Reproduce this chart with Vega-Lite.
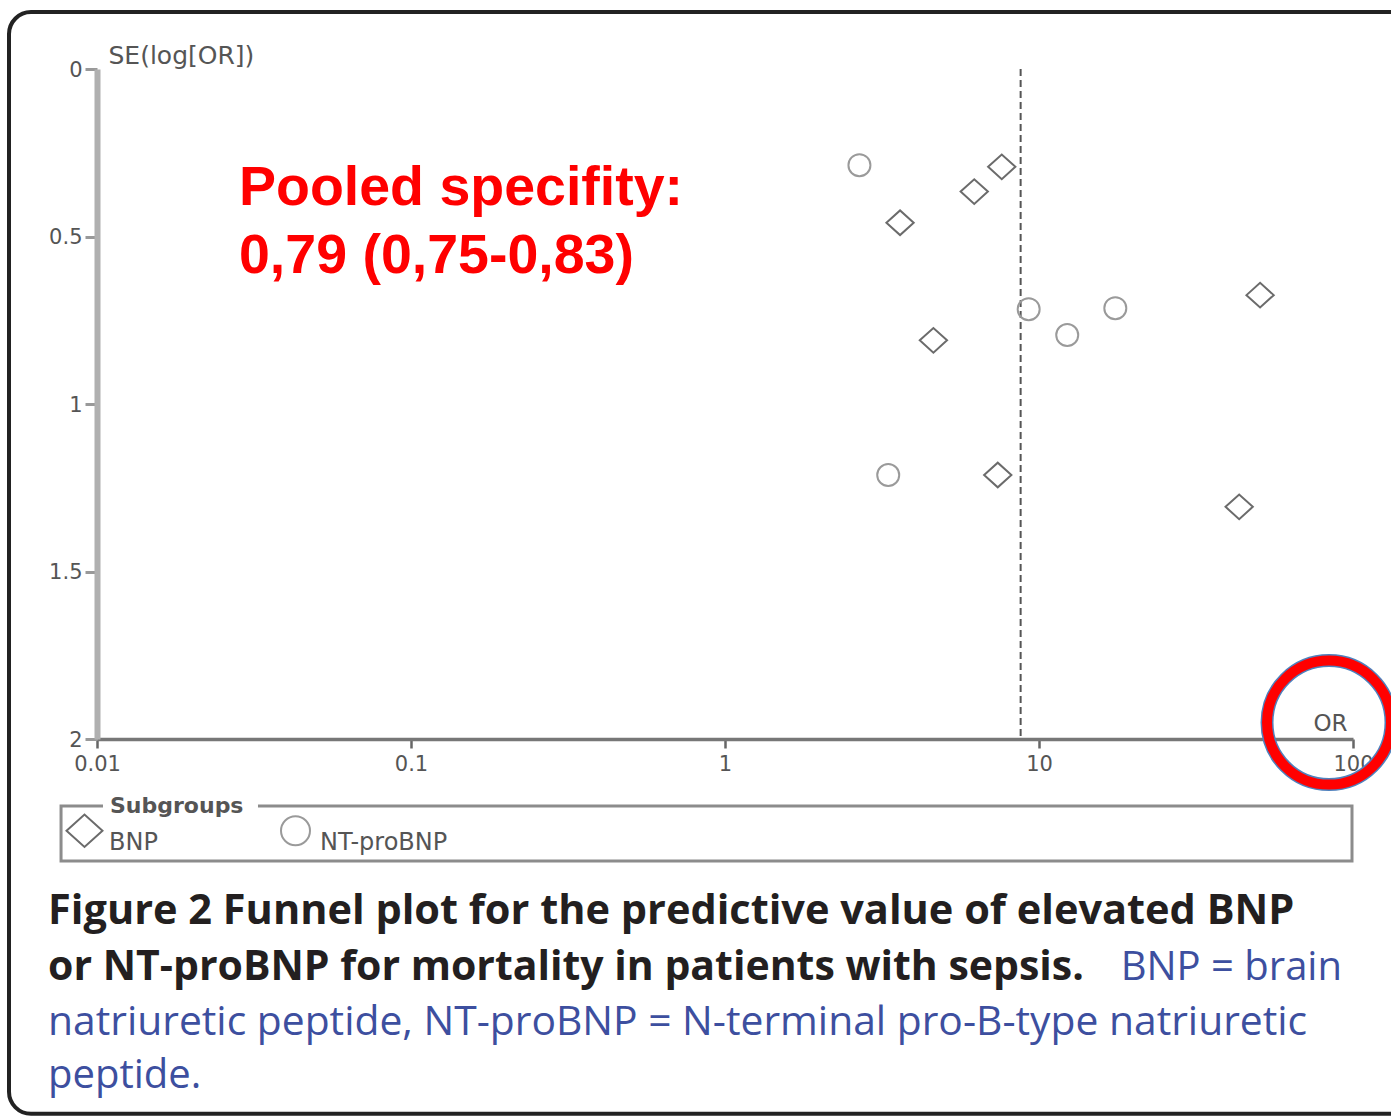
{
  "$schema": "https://vega.github.io/schema/vega-lite/v6.json",
  "width": 1256,
  "height": 670,
  "autosize": {"type": "none"},
  "padding": {"left": 97, "top": 69, "right": 38, "bottom": 377},
  "background": "white",
  "config": {"view": {"stroke": null}, "axis": {"grid": false}},
  "data": {
    "values": [
      {"group": "BNP", "or": 7.61, "se": 0.292},
      {"group": "BNP", "or": 6.22, "se": 0.366},
      {"group": "BNP", "or": 3.61, "se": 0.459},
      {"group": "BNP", "or": 4.61, "se": 0.810},
      {"group": "BNP", "or": 7.39, "se": 1.212},
      {"group": "BNP", "or": 50.6, "se": 0.675},
      {"group": "BNP", "or": 43.4, "se": 1.307},
      {"group": "NT-proBNP", "or": 2.68, "se": 0.287},
      {"group": "NT-proBNP", "or": 9.27, "se": 0.717},
      {"group": "NT-proBNP", "or": 12.3, "se": 0.794},
      {"group": "NT-proBNP", "or": 17.5, "se": 0.714},
      {"group": "NT-proBNP", "or": 3.31, "se": 1.212}
    ]
  },
  "layer": [
    {
      "data": {"values": [{}]},
      "mark": {"type": "rect", "fill": "transparent", "stroke": "#222222", "strokeWidth": 4, "cornerRadius": 22},
      "encoding": {
        "x": {"datum": 0.005245, "type": "quantitative"},
        "x2": {"datum": 175.9},
        "y": {"datum": -0.17, "type": "quantitative"},
        "y2": {"datum": 3.119}
      }
    },
    {
      "data": {"values": [{}]},
      "mark": {"type": "rect", "fill": "transparent", "stroke": "#8c8c8c", "strokeWidth": 3},
      "encoding": {
        "x": {"datum": 0.007682, "type": "quantitative"},
        "x2": {"datum": 99.27},
        "y": {"datum": 2.2, "type": "quantitative"},
        "y2": {"datum": 2.364}
      }
    },
    {
      "data": {"values": [{}]},
      "mark": {"type": "rect", "fill": "white", "stroke": null},
      "encoding": {
        "x": {"datum": 0.010449, "type": "quantitative"},
        "x2": {"datum": 0.03256},
        "y": {"datum": 2.173, "type": "quantitative"},
        "y2": {"datum": 2.227}
      }
    },
    {
      "data": {"values": [{}]},
      "mark": {"type": "text", "text": "Subgroups", "align": "left", "baseline": "alphabetic", "font": "DejaVu Sans", "fontSize": 22, "fontWeight": "bold", "fill": "#555555"},
      "encoding": {
        "x": {"datum": 0.011, "type": "quantitative"},
        "y": {"datum": 2.221, "type": "quantitative"}
      }
    },
    {
      "data": {"values": [{}]},
      "mark": {"type": "rule", "stroke": "#555555", "strokeWidth": 2, "strokeDash": [7, 4]},
      "encoding": {
        "x": {"datum": 8.74, "type": "quantitative"},
        "y": {"datum": 0, "type": "quantitative"},
        "y2": {"datum": 2}
      }
    },
    {
      "mark": {"type": "point", "filled": false, "strokeWidth": 2, "size": 484, "opacity": 1},
      "encoding": {
        "x": {
          "field": "or",
          "type": "quantitative",
          "scale": {"type": "log", "domain": [0.01, 100], "nice": false},
          "axis": {
            "title": "OR",
            "values": [0.01, 0.1, 1, 10, 100],
            "format": "~g",
            "orient": "bottom",
            "domainColor": "#777777",
            "domainWidth": 3.5,
            "tickColor": "#666666",
            "tickWidth": 2.5,
            "tickSize": 9,
            "labelFont": "DejaVu Sans",
            "labelFontSize": 21,
            "labelColor": "#555555",
            "labelPadding": 5,
            "labelFlush": false,
            "labelOverlap": false,
            "titleX": 1233,
            "titleY": -9,
            "titleAlign": "center",
            "titleBaseline": "alphabetic",
            "titleFont": "DejaVu Sans",
            "titleFontSize": 23,
            "titleFontWeight": "normal",
            "titleColor": "#555555"
          }
        },
        "y": {
          "field": "se",
          "type": "quantitative",
          "scale": {"domain": [0, 2], "reverse": true, "nice": false, "zero": false},
          "axis": {
            "title": "SE(log[OR])",
            "values": [0, 0.5, 1, 1.5, 2],
            "format": "~g",
            "orient": "left",
            "domainColor": "#b0b0b0",
            "domainWidth": 6,
            "tickColor": "#999999",
            "tickWidth": 3,
            "tickSize": 12,
            "labelFont": "DejaVu Sans",
            "labelFontSize": 21,
            "labelColor": "#555555",
            "labelPadding": 3,
            "labelOffset": 1,
            "labelFlush": false,
            "labelOverlap": false,
            "titleAngle": 0,
            "titleX": 11,
            "titleY": -6,
            "titleAlign": "left",
            "titleBaseline": "alphabetic",
            "titleFont": "DejaVu Sans",
            "titleFontSize": 25,
            "titleFontWeight": "normal",
            "titleColor": "#555555"
          }
        },
        "shape": {
          "field": "group",
          "type": "nominal",
          "scale": {"domain": ["BNP", "NT-proBNP"], "range": ["M-1.24,0L0,-1.12L1.24,0L0,1.12Z", "circle"]},
          "legend": {
            "title": null,
            "orient": "none",
            "legendX": -28,
            "legendY": 746,
            "direction": "horizontal",
            "symbolSize": 841,
            "symbolStrokeWidth": 2,
            "labelFont": "DejaVu Sans",
            "labelFontSize": 24,
            "labelColor": "#555555",
            "labelOffset": 9,
            "labelBaseline": "top",
            "columnPadding": 119,
            "padding": 0
          }
        },
        "stroke": {
          "field": "group",
          "type": "nominal",
          "scale": {"domain": ["BNP", "NT-proBNP"], "range": ["#6b6b6b", "#9a9a9a"]}
        }
      }
    },
    {
      "data": {"values": [{}]},
      "mark": {"type": "text", "text": ["Pooled specifity:", "0,79 (0,75-0,83)"], "align": "left", "baseline": "alphabetic", "lineHeight": 68, "font": "Liberation Sans", "fontSize": 55.5, "fontWeight": "bold", "fill": "#ff0000"},
      "encoding": {
        "x": {"datum": 0.02833, "type": "quantitative"},
        "y": {"datum": 0.406, "type": "quantitative"}
      }
    },
    {
      "data": {"values": [{}]},
      "mark": {"type": "point", "shape": "circle", "filled": false, "stroke": "#4f81bd", "strokeWidth": 13, "size": 15376, "opacity": 1},
      "encoding": {
        "x": {"datum": 83.87, "type": "quantitative"},
        "y": {"datum": 1.951, "type": "quantitative"}
      }
    },
    {
      "data": {"values": [{}]},
      "mark": {"type": "point", "shape": "circle", "filled": false, "stroke": "#ff0000", "strokeWidth": 10, "size": 15376, "opacity": 1},
      "encoding": {
        "x": {"datum": 83.87, "type": "quantitative"},
        "y": {"datum": 1.951, "type": "quantitative"}
      }
    },
    {
      "data": {"values": [{}]},
      "mark": {"type": "text", "text": "Figure 2 Funnel plot for the predictive value of elevated BNP", "align": "left", "baseline": "alphabetic", "font": "Open Sans", "fontSize": 41.5, "fontWeight": "bold", "fill": "#231f20"},
      "encoding": {
        "x": {"datum": 0.006982, "type": "quantitative"},
        "y": {"datum": 2.552, "type": "quantitative"}
      }
    },
    {
      "data": {"values": [{}]},
      "mark": {"type": "text", "text": "or NT-proBNP for mortality in patients with sepsis.", "align": "left", "baseline": "alphabetic", "font": "Open Sans", "fontSize": 41, "fontWeight": "bold", "fill": "#231f20"},
      "encoding": {
        "x": {"datum": 0.006982, "type": "quantitative"},
        "y": {"datum": 2.719, "type": "quantitative"}
      }
    },
    {
      "data": {"values": [{}]},
      "mark": {"type": "text", "text": "BNP = brain", "align": "right", "baseline": "alphabetic", "font": "Open Sans", "fontSize": 40, "fontWeight": "normal", "fill": "#3d4f9f"},
      "encoding": {
        "x": {"datum": 92.25, "type": "quantitative"},
        "y": {"datum": 2.719, "type": "quantitative"}
      }
    },
    {
      "data": {"values": [{}]},
      "mark": {"type": "text", "text": "natriuretic peptide, NT-proBNP = N-terminal pro-B-type natriuretic", "align": "left", "baseline": "alphabetic", "font": "Open Sans", "fontSize": 40.8, "fontWeight": "normal", "fill": "#3d4f9f"},
      "encoding": {
        "x": {"datum": 0.006982, "type": "quantitative"},
        "y": {"datum": 2.884, "type": "quantitative"}
      }
    },
    {
      "data": {"values": [{}]},
      "mark": {"type": "text", "text": "peptide.", "align": "left", "baseline": "alphabetic", "font": "Open Sans", "fontSize": 40, "fontWeight": "normal", "fill": "#3d4f9f"},
      "encoding": {
        "x": {"datum": 0.006982, "type": "quantitative"},
        "y": {"datum": 3.042, "type": "quantitative"}
      }
    }
  ]
}
